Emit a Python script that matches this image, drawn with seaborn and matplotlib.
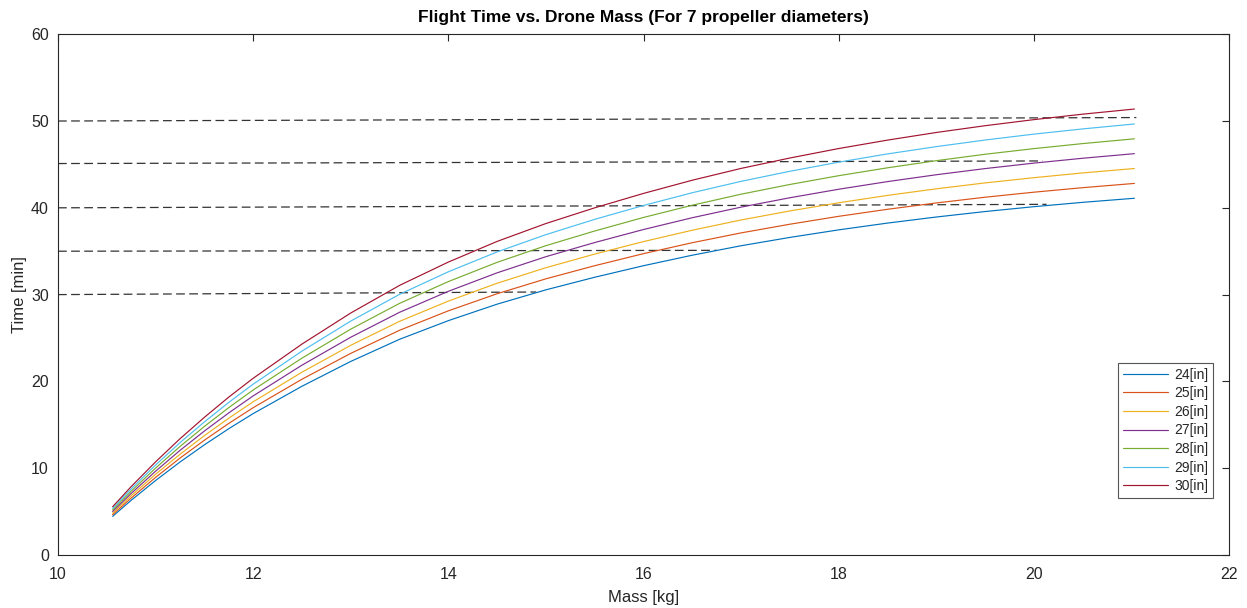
import numpy as np
import pandas as pd
import matplotlib
matplotlib.use("Agg")
import matplotlib.pyplot as plt
import seaborn as sns

# Drone mass samples [kg]
mass = [10.56, 10.75, 11.0, 11.25, 11.5, 11.75, 12.0, 12.5, 13.0, 13.5,
        14.0, 14.5, 15.0, 15.5, 16.0, 16.5, 17.0, 17.5, 18.0, 18.5,
        19.0, 19.5, 20.0, 20.5, 21.03]

# Flight time [min] for each propeller diameter
time_24 = [4.45, 6.30, 8.58, 10.71, 12.69, 14.55, 16.29, 19.44, 22.30, 24.85,
           27.00, 28.90, 30.55, 32.00, 33.33, 34.54, 35.63, 36.59, 37.46, 38.24,
           38.94, 39.57, 40.13, 40.63, 41.10]
time_25 = [4.64, 6.56, 8.94, 11.16, 13.22, 15.16, 16.97, 20.25, 23.23, 25.89,
           28.13, 30.10, 31.82, 33.33, 34.72, 35.98, 37.11, 38.11, 39.02, 39.83,
           40.56, 41.22, 41.80, 42.32, 42.81]
time_26 = [4.82, 6.83, 9.30, 11.60, 13.75, 15.76, 17.65, 21.06, 24.16, 26.92,
           29.25, 31.31, 33.10, 34.67, 36.11, 37.42, 38.60, 39.64, 40.58, 41.43,
           42.19, 42.87, 43.47, 44.02, 44.53]
time_27 = [5.01, 7.09, 9.65, 12.05, 14.28, 16.37, 18.33, 21.87, 25.09, 27.96,
           30.38, 32.51, 34.37, 36.00, 37.50, 38.86, 40.08, 41.16, 42.14, 43.02,
           43.81, 44.52, 45.15, 45.71, 46.24]
time_28 = [5.19, 7.35, 10.01, 12.50, 14.81, 16.98, 19.01, 22.68, 26.02, 28.99,
           31.50, 33.72, 35.64, 37.33, 38.89, 40.30, 41.57, 42.69, 43.70, 44.61,
           45.43, 46.17, 46.82, 47.40, 47.95]
time_29 = [5.38, 7.61, 10.37, 12.94, 15.33, 17.58, 19.68, 23.49, 26.95, 30.03,
           32.63, 34.92, 36.91, 38.67, 40.27, 41.74, 43.05, 44.21, 45.26, 46.21,
           47.05, 47.81, 48.49, 49.09, 49.66]
time_30 = [5.56, 7.88, 10.73, 13.39, 15.86, 18.19, 20.36, 24.30, 27.88, 31.06,
           33.75, 36.13, 38.19, 40.00, 41.66, 43.18, 44.54, 45.74, 46.83, 47.80,
           48.68, 49.46, 50.16, 50.79, 51.38]

labels = ["24[in]", "25[in]", "26[in]", "27[in]", "28[in]", "29[in]", "30[in]"]
series = [time_24, time_25, time_26, time_27, time_28, time_29, time_30]

# Reference time levels (dashed guides): start/end mass and start/end time
ref_x_start = [10.0, 10.0, 10.0, 10.0, 10.0]
ref_x_end = [14.9, 16.75, 20.13, 20.09, 21.05]
ref_y_start = [30.0, 35.0, 40.0, 45.1, 50.0]
ref_y_end = [30.3, 35.1, 40.4, 45.4, 50.4]

x_ticks = [10, 12, 14, 16, 18, 20, 22]
y_ticks = [0, 10, 20, 30, 40, 50, 60]

colors = ["#0072BD", "#D95319", "#EDB120", "#7E2F8E",
          "#77AC30", "#4DBEEE", "#A2142F"]

df = pd.DataFrame({
    "Mass": np.tile(mass, len(series)),
    "Time": np.concatenate(series),
    "Diameter": np.repeat(labels, len(mass)),
})

sns.set_style("white")
plt.rcParams["font.family"] = ["Liberation Sans", "DejaVu Sans"]

fig = plt.figure(figsize=(12.47, 6.08), dpi=100)
ax = fig.add_axes([0.0465, 0.0872, 0.9391, 0.8565])

for xs, xe, ys, ye in zip(ref_x_start, ref_x_end, ref_y_start, ref_y_end):
    sns.lineplot(x=[xs, xe], y=[ys, ye], ax=ax, color="#333333",
                 linewidth=0.9, linestyle=(0, (7.0, 3.5)), legend=False)

sns.lineplot(data=df, x="Mass", y="Time", hue="Diameter", palette=colors,
             estimator=None, sort=True, linewidth=0.85, ax=ax)

ax.set_xlim(10, 22)
ax.set_ylim(0, 60)
ax.set_xticks(x_ticks)
ax.set_yticks(y_ticks)
ax.tick_params(direction="in", length=5, width=0.8, colors="#262626",
               labelsize=11.5, top=True, right=True)
ax.tick_params(axis="x", pad=8.5)
ax.tick_params(axis="y", pad=6.5)
for s in ax.spines.values():
    s.set_color("#262626")
    s.set_linewidth(0.8)
    s.set_visible(True)

ax.set_xlabel("Mass [kg]", fontsize=12, color="#262626", labelpad=6)
ax.set_ylabel("Time [min]", fontsize=12, color="#262626", labelpad=3)
ax.set_title("Flight Time vs. Drone Mass (For 7 propeller diameters)",
             fontsize=12.5, fontweight="bold", color="black", pad=9)

handles, _ = ax.get_legend_handles_labels()
leg = ax.legend(handles[-7:], labels, loc="lower right",
                bbox_to_anchor=(0.9863, 0.1094), fontsize=10,
                frameon=True, fancybox=False, framealpha=1,
                edgecolor="#555555", handlelength=3.3, handletextpad=0.4,
                labelspacing=0.33, borderpad=0.35, borderaxespad=0)
leg.get_frame().set_linewidth(0.8)

fig.savefig("out.png", dpi=100)
